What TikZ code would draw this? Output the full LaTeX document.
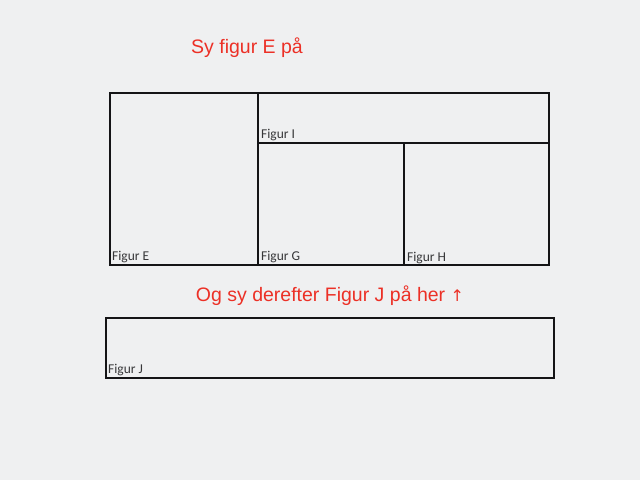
\documentclass[tikz,border=0pt]{standalone}
\usepackage{fontspec}
\setmainfont{Liberation Sans}
\newfontfamily\labfont{Carlito}
\newfontfamily\symfont{DejaVu Sans}
\definecolor{paper}{RGB}{239,240,241}
\definecolor{redtxt}{RGB}{236,48,38}
\definecolor{ink}{RGB}{20,20,22}
\begin{document}
\begin{tikzpicture}[x=1pt,y=-1pt,
  panel/.style={draw=ink,line width=2.4pt,inner sep=0pt,outer sep=0pt,anchor=north west},
  lab/.style={font=\labfont\fontsize{13.5}{15}\selectfont,text=ink!85,inner sep=0pt,anchor=south west},
  head/.style={font=\fontsize{19.5}{22}\selectfont,text=redtxt}]
\fill[paper] (0,0) rectangle (640,480);
\useasboundingbox (0,0) rectangle (640,480);
\node[panel,minimum width=148pt,minimum height=172pt] (E) at (110,93) {};
\node[panel,minimum width=291pt,minimum height=50pt] (I) at (258,93) {};
\node[panel,minimum width=146pt,minimum height=122pt] (G) at (258,143) {};
\node[panel,minimum width=145pt,minimum height=122pt] (H) at (404,143) {};
\node[panel,minimum width=448pt,minimum height=60pt] (J) at (106,318) {};
\node[lab] (lE) at ([xshift=2pt,yshift=1.5pt]E.south west) {Figur E};
\node[lab] (lI) at ([xshift=3pt,yshift=1.5pt]I.south west) {Figur I};
\node[lab] (lG) at ([xshift=3pt,yshift=1.5pt]G.south west) {Figur G};
\node[lab] (lH) at ([xshift=3pt,yshift=1pt]H.south west) {Figur H};
\node[lab] (lJ) at ([xshift=2pt,yshift=1.5pt]J.south west) {Figur J};
\node[head] (t1) at (247,48) {Sy figur E på};
\node[head] (t2) at (330,296) {Og sy derefter Figur J på her {\symfont\fontsize{16}{18}\selectfont ↑}};
\end{tikzpicture}
\end{document}
